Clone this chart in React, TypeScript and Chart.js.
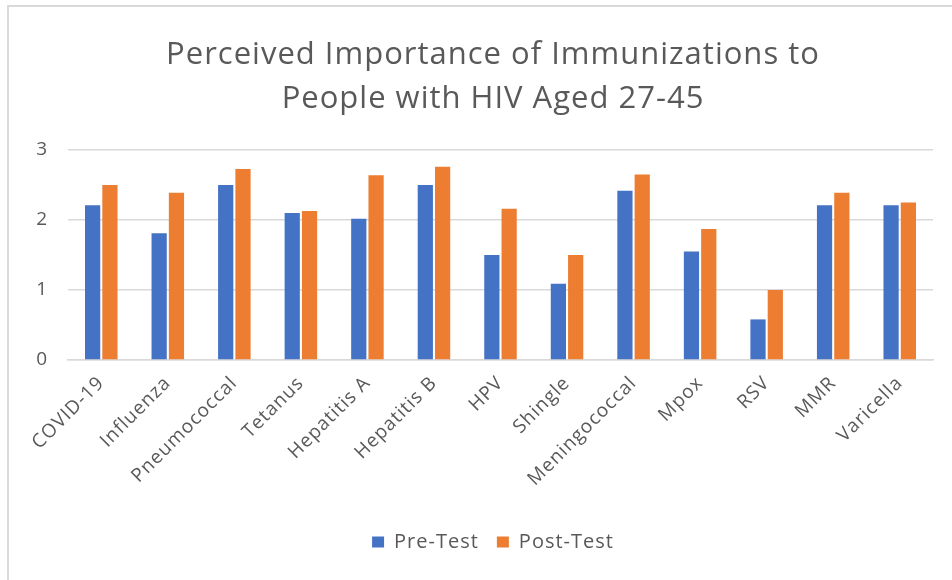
import React, { useEffect, useRef } from "react";
import { Chart, registerables } from "chart.js";

Chart.register(...registerables);

const categories = [
  "COVID-19", "Influenza", "Pneumococcal", "Tetanus", "Hepatitis A", "Hepatitis B",
  "HPV", "Shingle", "Meningococcal", "Mpox", "RSV", "MMR", "Varicella",
];
const preTest = [2.21, 1.81, 2.5, 2.1, 2.02, 2.5, 1.5, 1.09, 2.42, 1.55, 0.58, 2.21, 2.21];
const postTest = [2.5, 2.39, 2.73, 2.13, 2.64, 2.76, 2.16, 1.5, 2.65, 1.87, 1.0, 2.39, 2.25];
const yTicks = [0, 1, 2, 3];
const titleLines = ["Perceived Importance of Immunizations to", "People with HIV Aged 27-45"];

const FONT = '"Open Sans", sans-serif';
const TXT = "#595959";

const spacing = {
  id: "spacing",
  beforeLayout(chart: any) {
    chart.ctx.letterSpacing = "1px";
  },
  beforeDraw(chart: any) {
    chart.ctx.letterSpacing = "1px";
  },
};

export default function App() {
  const ref = useRef<HTMLCanvasElement | null>(null);
  useEffect(() => {
    if (!ref.current) return;
    const chart = new Chart(ref.current, {
      type: "bar",
      data: {
        labels: categories,
        datasets: [
          { label: "Pre-Test", data: preTest, backgroundColor: "#4472C4", categoryPercentage: 0.52, barPercentage: 0.88 },
          { label: "Post-Test", data: postTest, backgroundColor: "#ED7D31", categoryPercentage: 0.52, barPercentage: 0.88 },
        ],
      },
      plugins: [spacing],
      options: {
        animation: false,
        responsive: false,
        maintainAspectRatio: false,
        layout: { padding: { left: 53, right: 19, top: 0, bottom: 18 } },
        plugins: {
          title: {
            display: true,
            text: titleLines,
            color: TXT,
            font: { family: FONT, size: 31, weight: "normal", lineHeight: 1.42 },
            padding: { top: 33, bottom: 29 },
          },
          legend: {
            position: "bottom",
            labels: {
              color: TXT,
              font: { family: FONT, size: 20 },
              boxWidth: 12,
              boxHeight: 11,
              padding: 18,
            },
          },
          tooltip: { enabled: false },
        },
        scales: {
          x: {
            grid: { display: false },
            border: { display: true, color: "#d9d9d9", width: 1.5 },
            ticks: {
              color: TXT,
              font: { family: FONT, size: 19 },
              minRotation: 45,
              maxRotation: 45,
              padding: 4,
            },
            afterFit: (s: any) => { s.height = 154; },
          },
          y: {
            min: 0,
            max: 3,
            afterBuildTicks: (s: any) => { s.ticks = yTicks.map((v) => ({ value: v })); },
            grid: { color: "#d9d9d9", lineWidth: 1.5, drawTicks: false },
            border: { display: false },
            ticks: {
              color: TXT,
              font: { family: FONT, size: 19 },
              padding: 20,
            },
            afterFit: (s: any) => {
              s.width = 15;
              s._computeLabelArea = () => undefined;
            },
          },
        },
      },
    });
    return () => chart.destroy();
  }, []);
  return (
    <div style={{ position: "absolute", left: 0, top: 0, width: 952, height: 580, background: "#fff" }}>
      <div style={{ position: "absolute", left: 7, top: 5, right: 0, bottom: 0, borderTop: "2px solid #d9d9d9", borderLeft: "2px solid #d9d9d9" }} />
      <canvas ref={ref} width={952} height={580} style={{ position: "absolute", left: 0, top: 0 }} />
    </div>
  );
}
